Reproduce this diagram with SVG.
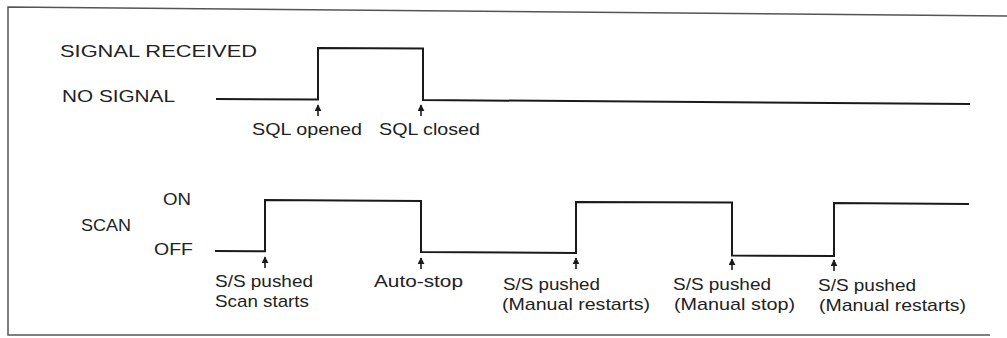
<svg xmlns="http://www.w3.org/2000/svg" width="1007" height="338" viewBox="0 0 1007 338">
<style>
.frame{fill:none;stroke:#555;stroke-width:1.5}
.wave{fill:none;stroke:#1a1a1a;stroke-width:2;stroke-linejoin:miter}
.tick{stroke:#1a1a1a;stroke-width:1.6}
text{font-family:"Liberation Sans",Arial,sans-serif;font-size:17px;fill:#222}
</style>
<defs>
<marker id="up" viewBox="0 0 10 10" refX="9" refY="5" markerWidth="7" markerHeight="7" markerUnits="userSpaceOnUse" orient="auto">
<path d="M0,0 L10,5 L0,10 Z" fill="#1a1a1a"/>
</marker>
</defs>
<rect width="1007" height="338" fill="#fff"/>
<g id="frame">
<path class="frame" d="M1007,16 L8,7 L8,335 L990,335"/>
</g>
<g id="signal-wave">
<path class="wave" d="M216,99 L318,99.5 L318,48 L423,48.5 L423,100 L970,104"/>
</g>
<g id="scan-wave">
<path class="wave" d="M215,251 L265,251.3 L265,200 L421,201 L421,252 L576,253 L576,202 L732,202.5 L732,255.5 L834,256 L834,203 L969,204"/>
</g>
<g id="connectors">
<line class="tick" x1="318" y1="116" x2="318" y2="105" marker-end="url(#up)"/>
<line class="tick" x1="421" y1="116" x2="421" y2="105" marker-end="url(#up)"/>
<line class="tick" x1="265" y1="268" x2="265" y2="257" marker-end="url(#up)"/>
<line class="tick" x1="421" y1="269" x2="421" y2="258" marker-end="url(#up)"/>
<line class="tick" x1="576" y1="269" x2="576" y2="258" marker-end="url(#up)"/>
<line class="tick" x1="732" y1="270" x2="732" y2="259" marker-end="url(#up)"/>
<line class="tick" x1="834" y1="271" x2="834" y2="260" marker-end="url(#up)"/>
</g>
<g id="level-labels">
<text x="60" y="57" textLength="197" lengthAdjust="spacingAndGlyphs">SIGNAL  RECEIVED</text>
<text x="62" y="102" textLength="113" lengthAdjust="spacingAndGlyphs">NO SIGNAL</text>
<text x="163" y="205" textLength="28" lengthAdjust="spacingAndGlyphs">ON</text>
<text x="81" y="231" textLength="50" lengthAdjust="spacingAndGlyphs">SCAN</text>
<text x="154" y="255" textLength="39" lengthAdjust="spacingAndGlyphs">OFF</text>
</g>
<g id="sql-opened"><text x="252" y="135" textLength="110" lengthAdjust="spacingAndGlyphs">SQL opened</text></g>
<g id="sql-closed"><text x="379" y="135" textLength="101" lengthAdjust="spacingAndGlyphs">SQL closed</text></g>
<g id="scan-starts">
<text x="215" y="287" textLength="98" lengthAdjust="spacingAndGlyphs">S/S pushed</text>
<text x="215" y="307" textLength="94" lengthAdjust="spacingAndGlyphs">Scan starts</text>
</g>
<g id="auto-stop"><text x="374" y="287" textLength="89" lengthAdjust="spacingAndGlyphs">Auto-stop</text></g>
<g id="manual-restart-1">
<text x="503" y="290" textLength="97" lengthAdjust="spacingAndGlyphs">S/S pushed</text>
<text x="502" y="310" textLength="148" lengthAdjust="spacingAndGlyphs">(Manual restarts)</text>
</g>
<g id="manual-stop">
<text x="673" y="290" textLength="98" lengthAdjust="spacingAndGlyphs">S/S pushed</text>
<text x="674" y="310" textLength="121" lengthAdjust="spacingAndGlyphs">(Manual stop)</text>
</g>
<g id="manual-restart-2">
<text x="818" y="291" textLength="98" lengthAdjust="spacingAndGlyphs">S/S pushed</text>
<text x="819" y="311" textLength="147" lengthAdjust="spacingAndGlyphs">(Manual restarts)</text>
</g>
</svg>
